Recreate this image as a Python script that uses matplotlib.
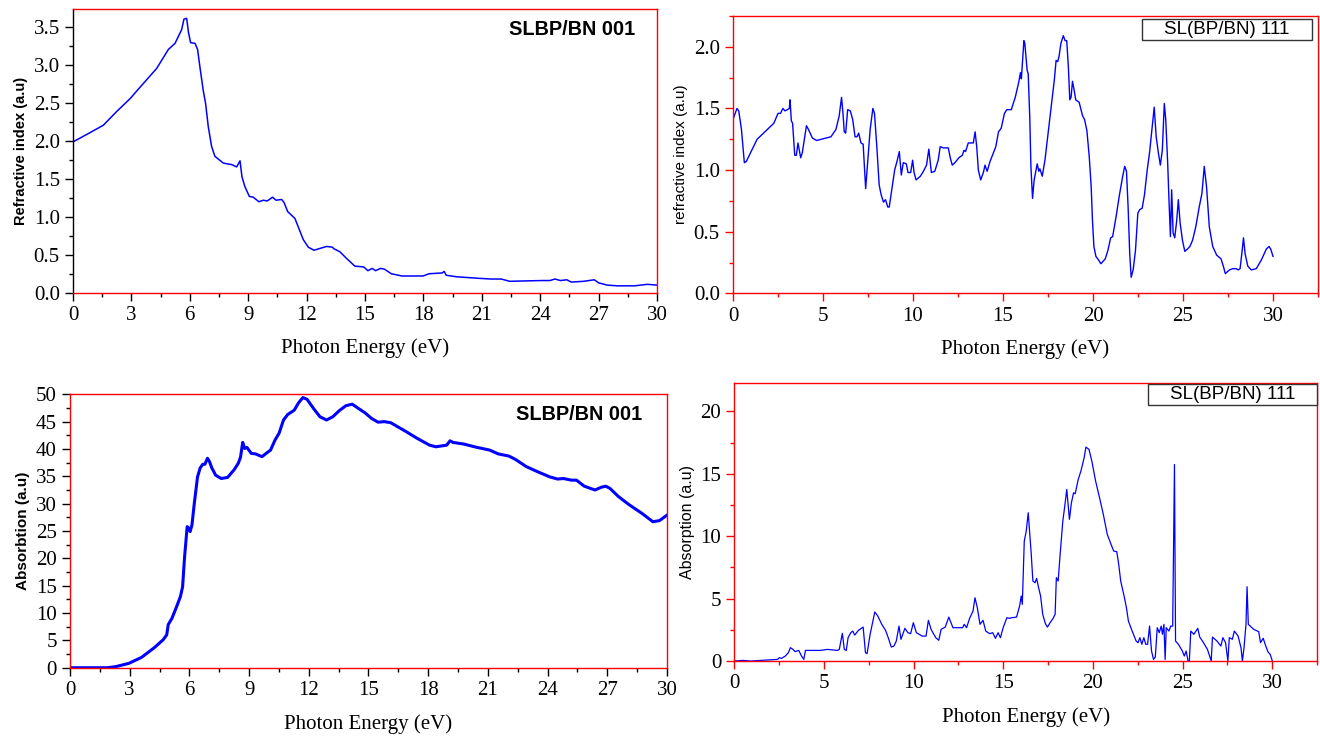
import numpy as np
import matplotlib.pyplot as plt
from matplotlib.patches import Rectangle
from matplotlib.ticker import MultipleLocator, FormatStrFormatter

# ---------------- data ----------------
# refractive index, SLBP/BN 001
e_n001 = [0, 0.79, 1.56, 2.24, 2.93, 3.44, 4.3, 4.9, 5.24, 5.58, 5.70, 5.84, 5.93, 6.04, 6.27, 6.40,
          6.52, 6.69, 6.81, 6.95, 7.12, 7.29, 7.72, 8.15, 8.41, 8.58, 8.68, 8.83, 9.06,
          9.26, 9.55, 9.78, 9.98, 10.25, 10.43, 10.72, 10.84, 11.03, 11.40, 11.57, 11.83,
          12.09, 12.38, 13.03, 13.33, 13.4, 13.71, 14.06, 14.48, 14.93, 15.15, 15.37,
          15.54, 15.8, 16.0, 16.35, 16.9, 17.98, 18.3, 18.96, 19.07, 19.17, 19.7, 20.8,
          21.46, 22.0, 22.43, 24.07, 24.5, 24.76, 25.04, 25.37, 25.59, 26.24, 26.78, 27.0,
          27.43, 27.98, 28.85, 29.5, 30.0]
n001 = [1.99, 2.10, 2.21, 2.39, 2.56, 2.71, 2.96, 3.21, 3.29, 3.47, 3.61, 3.62, 3.44, 3.30, 3.29, 3.21,
        2.98, 2.67, 2.50, 2.19, 1.93, 1.80, 1.71, 1.69, 1.66, 1.74, 1.53, 1.40, 1.27,
        1.26, 1.20, 1.22, 1.21, 1.26, 1.22, 1.23, 1.19, 1.07, 0.98, 0.87, 0.70,
        0.60, 0.56, 0.61, 0.60, 0.58, 0.54, 0.45, 0.35, 0.34, 0.29, 0.32,
        0.29, 0.32, 0.31, 0.25, 0.22, 0.22, 0.25, 0.26, 0.28, 0.23, 0.21, 0.19,
        0.18, 0.18, 0.15, 0.16, 0.16, 0.18, 0.16, 0.17, 0.14, 0.15, 0.17, 0.13,
        0.10, 0.09, 0.09, 0.11, 0.10]

# refractive index, SL(BP/BN) 111
e_n111 = [0, 0.22, 0.32, 0.47, 0.63, 0.74, 1.34, 1.99, 2.27, 2.50, 2.64, 2.77, 2.89, 3.02,
          3.13, 3.17, 3.24, 3.31, 3.43, 3.52, 3.61, 3.76, 3.85, 4.08, 4.19, 4.41, 4.64,
          5.16, 5.44, 5.72, 5.90, 6.03, 6.11, 6.18, 6.26, 6.37, 6.52, 6.65, 6.78, 6.89,
          6.98, 7.11, 7.23, 7.37, 7.49, 7.62, 7.77, 7.86, 7.99, 8.12, 8.23, 8.36, 8.47,
          8.60, 8.68, 8.83, 8.98, 9.11, 9.24, 9.35, 9.46, 9.63, 9.72, 9.87, 9.98, 10.06,
          10.17, 10.41, 10.58, 10.75, 10.88, 11.02, 11.21, 11.40, 11.51, 11.68, 11.86,
          11.96, 12.07, 12.18, 12.33, 12.55, 12.74, 12.83, 12.92, 13.07, 13.26, 13.35,
          13.45, 13.54, 13.63, 13.76, 13.91, 14.0, 14.12, 14.28, 14.47, 14.60, 14.75,
          14.90, 15.08, 15.21, 15.46, 15.68, 15.87, 15.97, 16.02, 16.16, 16.21, 16.34,
          16.4, 16.49, 16.55, 16.64, 16.73, 16.90, 16.99, 17.05, 17.18, 17.33, 17.52,
          17.70, 17.85, 17.95, 18.04, 18.11, 18.22, 18.35, 18.45, 18.54, 18.63, 18.71,
          18.78, 18.86, 18.95, 19.04, 19.23, 19.42, 19.53, 19.66, 19.79, 19.90, 19.97,
          20.05, 20.16, 20.31, 20.44, 20.68, 20.83, 20.98, 21.09, 21.28, 21.47, 21.65,
          21.76, 21.86, 21.95, 22.04, 22.12, 22.23, 22.36, 22.49, 22.60, 22.73, 22.86,
          23.01, 23.14, 23.29, 23.40, 23.51, 23.63, 23.74, 23.85, 23.96, 24.04, 24.15,
          24.22, 24.30, 24.37, 24.45, 24.54, 24.65, 24.74, 24.84, 24.97, 25.10, 25.25,
          25.38, 25.53, 25.71, 25.90, 26.05, 26.18, 26.31, 26.46, 26.65, 26.87, 27.11,
          27.24, 27.35, 27.58, 27.76, 27.95, 28.06, 28.17, 28.28, 28.36, 28.45, 28.60,
          28.79, 29.07, 29.35, 29.63, 29.78, 29.87, 30.0]
n111 = [1.41, 1.50, 1.48, 1.33, 1.06, 1.07, 1.25, 1.34, 1.38, 1.46, 1.46, 1.50, 1.48, 1.49,
        1.50, 1.57, 1.40, 1.38, 1.12, 1.12, 1.22, 1.10, 1.14, 1.36, 1.33, 1.26, 1.24,
        1.26, 1.27, 1.33, 1.44, 1.59, 1.46, 1.31, 1.30, 1.49, 1.48, 1.41, 1.27, 1.27,
        1.30, 1.22, 1.21, 0.85, 1.08, 1.33, 1.50, 1.46, 1.19, 0.88, 0.80, 0.74, 0.76,
        0.70, 0.70, 0.85, 1.00, 1.07, 1.15, 0.96, 1.06, 1.05, 0.98, 0.98, 1.08, 0.98,
        0.92, 0.95, 0.99, 1.04, 1.17, 0.98, 0.99, 1.08, 1.19, 1.18, 1.18,
        1.18, 1.10, 1.04, 1.06, 1.10, 1.12, 1.16, 1.15, 1.22, 1.22, 1.22,
        1.31, 1.19, 1.00, 0.92, 0.98, 1.04, 0.99, 1.07, 1.14, 1.19, 1.31,
        1.34, 1.46, 1.49, 1.49, 1.59, 1.71, 1.79, 1.74, 2.05, 2.03, 1.81,
        1.78, 1.41, 1.03, 0.77, 0.92, 1.05, 0.99, 1.01, 0.95, 1.08, 1.32,
        1.54, 1.73, 1.89, 1.88, 1.92, 2.03, 2.09, 2.05, 2.05, 1.84, 1.57,
        1.59, 1.72, 1.65, 1.57, 1.55, 1.44, 1.41, 1.32, 1.11, 0.86, 0.59,
        0.38, 0.30, 0.27, 0.24, 0.28, 0.35, 0.45, 0.46, 0.62, 0.80, 0.95,
        1.03, 0.99, 0.70, 0.32, 0.13, 0.19, 0.35, 0.65, 0.68, 0.69, 0.80,
        1.00, 1.14, 1.35, 1.51, 1.27, 1.14, 1.04, 1.16, 1.54, 1.41, 1.05,
        0.76, 0.46, 0.84, 0.49, 0.45, 0.59, 0.76, 0.57, 0.43, 0.34, 0.36,
        0.38, 0.43, 0.54, 0.70, 0.81, 1.03, 0.86, 0.54, 0.38, 0.31, 0.28,
        0.22, 0.16, 0.19, 0.20, 0.20, 0.19, 0.20, 0.34, 0.45, 0.32, 0.22,
        0.19, 0.20, 0.27, 0.36, 0.38, 0.36, 0.30]

# absorption, SLBP/BN 001
e_a001 = [0, 1.88, 2.3, 2.96, 3.6, 4.25, 4.68, 4.86, 4.94, 5.12, 5.33, 5.55, 5.66, 5.76,
          5.89, 5.98, 6.04, 6.13, 6.24, 6.41, 6.54, 6.67, 6.78, 6.91, 7.01, 7.12, 7.32,
          7.60, 7.92, 8.25, 8.46, 8.57, 8.68, 8.78, 8.89, 9.11, 9.32, 9.65, 9.86, 10.08,
          10.3, 10.51, 10.73, 10.94, 11.27, 11.48, 11.7, 11.91, 12.24, 12.56, 12.89,
          13.21, 13.53, 13.86, 14.18, 14.5, 14.83, 15.15, 15.48, 15.8, 16.12, 16.45,
          16.88, 17.42, 18.07, 18.39, 18.93, 19.1, 19.25, 19.79, 20.44, 21.09, 21.52,
          22.06, 22.38, 22.92, 23.46, 24.11, 24.5, 24.8, 25.19, 25.45, 25.84, 26.38,
          26.7, 26.92, 27.13, 27.56, 28.1, 28.75, 29.29, 29.62, 30.0]
a001 = [0, 0, 0.2, 0.8, 1.9, 3.7, 5.1, 6.0, 7.9, 9.0, 10.9, 13.0, 14.8, 20.3,
        25.8, 25.5, 24.9, 26.1, 29.8, 34.9, 36.5, 37.2, 37.2, 38.3, 37.7, 36.6, 35.2,
        34.6, 34.8, 36.2, 37.4, 38.5, 41.2, 40.1, 40.3, 39.2, 39.1, 38.6, 39.2, 39.8,
        41.6, 42.9, 45.3, 46.3, 47.1, 48.4, 49.4, 49.1, 47.4, 45.9, 45.3,
        45.9, 47.0, 47.9, 48.2, 47.4, 46.6, 45.6, 44.9, 45.0, 44.8, 44.1,
        43.2, 42.0, 40.7, 40.4, 40.7, 41.5, 41.2, 40.9, 40.3, 39.8, 39.1,
        38.7, 38.1, 36.8, 35.9, 34.9, 34.5, 34.6, 34.3, 34.3, 33.2, 32.5,
        33.0, 33.2, 32.8, 31.3, 29.8, 28.2, 26.7, 26.9, 27.9]

# absorption, SL(BP/BN) 111
e_a111 = [0, 0.47, 0.9, 2.41, 2.5, 2.62, 2.84, 3.01, 3.12, 3.27, 3.38, 3.59, 3.74, 3.87,
          3.96, 4.24, 4.77, 5.2, 5.74, 5.85, 6.02, 6.13, 6.24, 6.34, 6.49, 6.6, 6.71,
          6.92, 7.18, 7.31, 7.4, 7.57, 7.83, 8.0, 8.22, 8.43, 8.58, 8.75, 8.9, 9.03, 9.18,
          9.29, 9.51, 9.68, 9.83, 9.98, 10.15, 10.47, 10.69, 10.82, 10.97, 11.23, 11.4,
          11.53, 11.76, 11.96, 12.19, 12.52, 12.73, 12.82, 12.95, 13.12, 13.31, 13.42,
          13.55, 13.7, 13.87, 14.02, 14.24, 14.41, 14.56, 14.71, 14.84, 14.99, 15.2, 15.35,
          15.48, 15.74, 15.91, 16.0, 16.06, 16.17, 16.28, 16.39, 16.45, 16.56, 16.65,
          16.77, 16.86, 16.97, 17.08, 17.2, 17.35, 17.46, 17.61, 17.78, 17.89, 17.96,
          18.06, 18.17, 18.32, 18.43, 18.54, 18.69, 18.8, 18.92, 19.01, 19.18, 19.33,
          19.51, 19.61, 19.78, 19.94, 20.15, 20.37, 20.58, 20.8, 21.01, 21.16, 21.33,
          21.44, 21.55, 21.76, 21.87, 21.98, 22.19, 22.41, 22.52, 22.62, 22.73, 22.84,
          22.95, 23.05, 23.16, 23.27, 23.38, 23.48, 23.59, 23.7, 23.81, 23.88, 23.96,
          24.03, 24.09, 24.24, 24.34, 24.45, 24.55, 24.61, 24.77, 24.99, 25.1, 25.2,
          25.31, 25.38, 25.46, 25.63, 25.85, 25.96, 26.17, 26.39, 26.6, 26.67, 26.92,
          27.14, 27.25, 27.4, 27.53, 27.61, 27.78, 27.89, 28.1, 28.26, 28.34, 28.43,
          28.54, 28.6, 28.67, 28.97, 29.25, 29.35, 29.5, 29.61, 29.76, 29.89, 30.0]
a111 = [0, 0.05, 0, 0.13, 0.27, 0.21, 0.40, 0.67, 1.07, 0.93, 0.75, 0.85, 0.40, 0.13,
        0.85, 0.85, 0.85, 0.93, 0.85, 0.93, 2.22, 0.93, 0.85, 1.87, 2.27, 2.4, 2.08,
        2.46, 2.72, 0.67, 0.59, 2.14, 3.93, 3.6, 2.94, 2.46, 1.87, 1.12, 1.2, 1.6, 2.8,
        1.74, 2.62, 2.27, 2.19, 3.07, 2.27, 2.0, 2.0, 3.26, 2.54, 1.87, 1.66,
        2.54, 2.72, 3.52, 2.67, 2.67, 2.67, 2.94, 2.67, 3.42, 4.0, 5.07,
        4.27, 2.94, 3.26, 2.4, 2.19, 2.27, 1.82, 2.27, 1.87, 2.67, 3.47, 3.42,
        3.47, 3.52, 4.41, 5.21, 4.54, 9.61, 10.41, 11.88, 10.68, 8.54, 6.41,
        6.27, 6.62, 5.87, 5.21, 3.74, 2.99, 2.72, 3.07, 3.42, 3.74, 6.68,
        6.41, 8.54, 11.21, 12.42, 13.75, 11.35, 12.68, 13.48, 13.4, 14.55, 15.22,
        16.29, 17.14, 16.96, 16.02, 14.42, 13.08, 11.75, 10.15, 9.35, 8.81, 8.76,
        7.74, 6.41, 5.07, 4.27, 3.2, 2.4, 1.6, 1.47, 1.87, 1.34, 1.87,
        1.34, 1.34, 2.8, 0.8, 0.13, 0.32, 2.67, 2.27, 2.8, 2.14, 2.94,
        0.13, 2.67, 2.4, 2.8, 2.8, 15.75, 1.6, 1.34, 0.8, 0.4, 0.8,
        0, 0, 2.4, 2.14, 2.62, 1.92, 1.47, 0.93, 0, 1.92, 1.6,
        1.2, 1.87, 1.47, 0, 1.87, 1.74, 2.4, 2.0, 1.07, 0, 1.07,
        2.94, 5.95, 2.94, 2.54, 2.35, 1.47, 1.82, 1.34, 0.75, 0.53, 0.05]

# ---------------- figure ----------------
fig = plt.figure(figsize=(13.2, 7.37), dpi=100)

serif = 'Liberation Serif'
sans = 'Liberation Sans'


def style_axes(ax, xmax, xmaj, xmin, ymax, ymaj, ymin, yfmt, tick_col):
    ax.set_xlim(0, xmax)
    ax.set_ylim(0, ymax)
    ax.xaxis.set_major_locator(MultipleLocator(xmaj))
    ax.xaxis.set_minor_locator(MultipleLocator(xmin))
    ax.yaxis.set_major_locator(MultipleLocator(ymaj))
    ax.yaxis.set_minor_locator(MultipleLocator(ymin))
    ax.yaxis.set_major_formatter(FormatStrFormatter(yfmt))
    for s in ax.spines.values():
        s.set_color('red')
        s.set_linewidth(1.0)
    ax.tick_params(which='major', direction='out', length=6, width=1, color=tick_col,
                   labelsize=15)
    ax.tick_params(which='minor', direction='out', length=3, width=1, color=tick_col)
    for lab in ax.get_xticklabels() + ax.get_yticklabels():
        lab.set_fontfamily(serif)
    ax.set_xlabel('Photon Energy (eV)', fontsize=15, fontfamily=serif, labelpad=10)


def boxed_label(ax, x0, y0, x1, y1, txt):
    # framed sample label (axes coordinates)
    ax.add_patch(Rectangle((x0, y0), x1 - x0, y1 - y0, transform=ax.transAxes,
                           fc='white', ec='#333333', lw=1.0, zorder=5, clip_on=False))
    ax.text((x0 + x1) / 2, (y0 + y1) / 2, txt, transform=ax.transAxes, ha='center',
            va='center', fontsize=13.5, fontfamily=sans, zorder=6)


# top-left: refractive index 001
ax1 = fig.add_axes([0.0553, 0.6029, 0.4424, 0.3845])
ax1.plot(e_n001, n001, color='blue', lw=1.1)
style_axes(ax1, 30, 3, 1.5, 3.74, 0.5, 0.25, '%.1f', 'black')
ax1.spines['left'].set_color('black')
ax1.set_ylabel('Refractive index (a.u)', fontsize=10.5, fontweight='bold', fontfamily=sans)
ax1.text(0.962, 0.93, 'SLBP/BN 001', transform=ax1.transAxes, ha='right', va='center',
         fontsize=14.3, fontweight='bold', fontfamily=sans)

# top-right: refractive index 111
ax2 = fig.add_axes([0.5553, 0.6020, 0.4432, 0.3763])
ax2.plot(e_n111, n111, color='blue', lw=1.0)
style_axes(ax2, 32.5, 5, 2.5, 2.25, 0.5, 0.25, '%.1f', 'red')
ax2.set_ylabel('refractive index (a.u)', fontsize=11, fontfamily=sans)
boxed_label(ax2, 0.699, 0.913, 0.990, 0.989, 'SL(BP/BN) 111')

# bottom-left: absorption 001
ax3 = fig.add_axes([0.0530, 0.0940, 0.4523, 0.3710])
ax3.plot(e_a001, a001, color='blue', lw=2.2)
style_axes(ax3, 30, 3, 1.5, 50, 5, 2.5, '%d', 'black')
ax3.set_ylabel('Absorbtion (a.u)', fontsize=11, fontweight='bold', fontfamily=sans)
ax3.text(0.958, 0.925, 'SLBP/BN 001', transform=ax3.transAxes, ha='right', va='center',
         fontsize=14.3, fontweight='bold', fontfamily=sans)

# bottom-right: absorption 111
ax4 = fig.add_axes([0.5564, 0.1031, 0.4413, 0.3776])
ax4.plot(e_a111, a111, color='blue', lw=0.9)
style_axes(ax4, 32.5, 5, 2.5, 22.3, 5, 2.5, '%d', 'red')
ax4.set_ylabel('Absorption (a.u)', fontsize=11.5, fontfamily=sans)
boxed_label(ax4, 0.710, 0.920, 1.0, 0.995, 'SL(BP/BN) 111')

plt.savefig('out.png', dpi=100)
